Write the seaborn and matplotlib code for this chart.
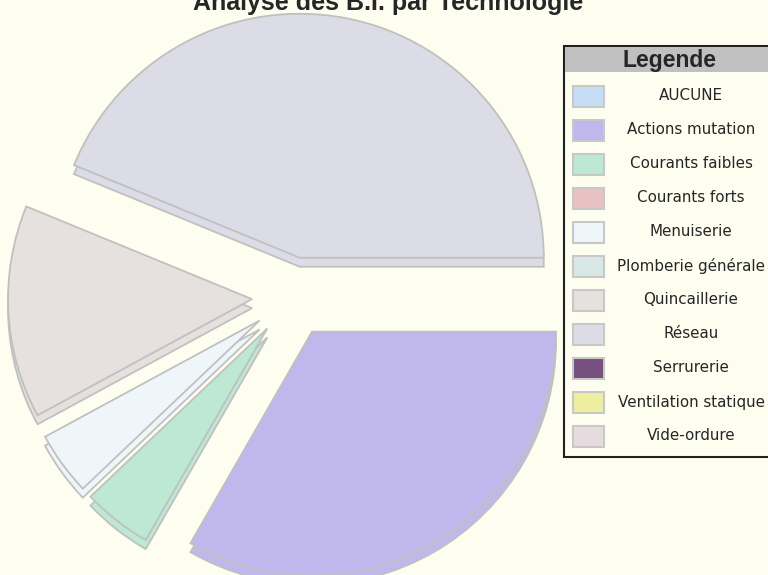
import matplotlib
matplotlib.use("Agg")
import matplotlib.pyplot as plt
import seaborn as sns
from matplotlib.patches import Rectangle

# Data (share of B.I. per technology, in %)
labels = ["AUCUNE", "Actions mutation", "Courants faibles", "Courants forts",
          "Menuiserie", "Plomberie générale", "Quincaillerie", "Réseau",
          "Serrurerie", "Ventilation statique", "Vide-ordure"]
values = [0, 33.3, 4.6, 0, 4.2, 0, 14.1, 43.8, 0, 0, 0]
colors = ["#C6DDF5", "#C0B8EC", "#BCE8D4", "#E8C2C2", "#EEF6FA", "#D8E8E4",
          "#E6E0DE", "#DCDCE6", "#76507E", "#EEEEA0", "#E6DCE0"]
title = "Analyse des B.I. par Technologie"

bg = "#FEFEF0"
edge = "#C0C0C0"

sns.set_style("white")
plt.rcParams['font.family'] = ['DejaVu Sans']
palette = sns.color_palette(colors)

fig = plt.figure(figsize=(7.68, 5.75), dpi=100, facecolor=bg)
ax = fig.add_axes([0, 0, 1, 1])
ax.set_facecolor(bg)

# only non-empty slices go in the pie, all of them go in the legend
shown = [i for i, v in enumerate(values) if v > 0]
vals = [values[i] for i in shown]
cols = [palette[i] for i in shown]

# thickness layer first (shifted down), then the top face
for dy in (-9, 0):
    ax.pie(vals, colors=cols, startangle=0, counterclock=False,
           explode=[40] * len(vals), radius=244, center=(292, 278 + dy),
           wedgeprops=dict(edgecolor=edge, linewidth=1.3), frame=True)

ax.set_xlim(0, 768)
ax.set_ylim(0, 575)
ax.set_aspect('equal')
ax.axis('off')

# title sits partly above the top edge, as in the original
fig.text(388 / 768, (575 - 10) / 575, title, ha='center', va='baseline',
         fontsize=18, fontweight='bold', family='Liberation Sans')

# legend box
H = 575
ax.add_patch(Rectangle((564, H - 457), 212, 411, facecolor=bg,
                       edgecolor='#202020', linewidth=1.5, clip_on=False))
ax.add_patch(Rectangle((565, H - 72), 211, 25, facecolor='#C0C0C0',
                       edgecolor='none', clip_on=False))
ax.text(669, H - 60, "Legende", ha='center', va='center', fontsize=16.5,
        fontweight='bold', family='Liberation Sans')
for i, lab in enumerate(labels):
    yc = 96 + 34 * i
    ax.add_patch(Rectangle((573, H - yc - 10.5), 31, 21, facecolor=palette[i],
                           edgecolor='#C8C8C8', linewidth=1.5))
    ax.text(691, H - yc, lab, ha='center', va='center', fontsize=10.9)

fig.savefig("out.png", dpi=100, facecolor=bg)
